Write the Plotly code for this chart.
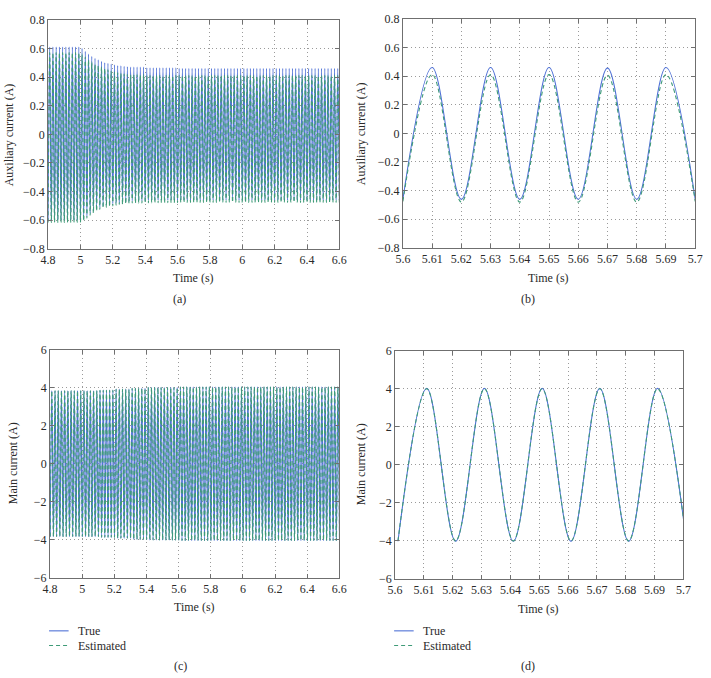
import plotly.graph_objects as go

# ---------------- data ----------------
PERIOD = 0.02  # s (50 Hz)

# (a) auxiliary current, 4.8-6.6 s : peak values per cycle
a_tmax0, a_tmin0 = 4.81, 4.80
a_true_max = [0.61]*10 + [0.60, 0.58, 0.56, 0.545, 0.53, 0.52, 0.51, 0.50, 0.495, 0.49,
                          0.485, 0.48, 0.478, 0.475, 0.472] + [0.47]*5 + [0.465]*10 + [0.46]*50
a_true_min = [-0.60]*11 + [-0.59, -0.57, -0.55, -0.535, -0.52, -0.51, -0.50, -0.495, -0.49,
                           -0.485, -0.48, -0.478, -0.475, -0.472, -0.47] + [-0.465]*5 + [-0.46]*10 + [-0.46]*50
a_est_max = [0.57]*10 + [0.56, 0.54, 0.52, 0.505, 0.49, 0.48, 0.47, 0.46, 0.45, 0.44,
                         0.435, 0.43, 0.425, 0.42, 0.418] + [0.415]*5 + [0.41]*10 + [0.41]*50
a_est_min = [-0.615]*11 + [-0.605, -0.585, -0.565, -0.55, -0.535, -0.525, -0.515, -0.51, -0.505,
                           -0.50, -0.495, -0.49, -0.488, -0.485, -0.482] + [-0.48]*5 + [-0.478]*10 + [-0.476]*50

# (b) auxiliary current zoom, 5.6-5.7 s
b_tmax0, b_tmin0 = 5.61, 5.60
b_true_max = [0.46, 0.46, 0.46, 0.455, 0.46]
b_true_min = [-0.46, -0.46, -0.46, -0.46, -0.46, -0.46]
b_est_max = [0.41, 0.41, 0.41, 0.405, 0.41]
b_est_min = [-0.475, -0.48, -0.48, -0.48, -0.48, -0.475]

# (c) main current, 4.8-6.6 s
c_tmax0, c_tmin0 = 4.811, 4.801
c_true_max = [3.85]*15 + [3.88]*5 + [3.93]*5 + [3.98]*5 + [4.02]*10 + [4.05]*50
c_true_min = [-3.83]*16 + [-3.87]*5 + [-3.92]*5 + [-3.98]*5 + [-4.01]*10 + [-4.04]*50
c_est_max = [3.84]*15 + [3.87]*5 + [3.92]*5 + [3.97]*5 + [4.01]*10 + [4.04]*50
c_est_min = [-3.82]*16 + [-3.86]*5 + [-3.91]*5 + [-3.97]*5 + [-4.0]*10 + [-4.03]*50

# (d) main current zoom, 5.6-5.7 s
d_tmax0, d_tmin0 = 5.611, 5.601
d_true_max = [4.02, 4.02, 4.02, 4.02, 4.02]
d_true_min = [-4.02, -4.02, -4.02, -4.02, -4.02, -4.02]
d_est_max = [4.0, 4.0, 4.0, 4.0, 4.0]
d_est_min = [-4.0, -4.0, -4.0, -4.0, -4.0, -4.0]

# axis ticks
x_ticks_long = [4.8, 5.0, 5.2, 5.4, 5.6, 5.8, 6.0, 6.2, 6.4, 6.6]
x_text_long = ["4.8", "5", "5.2", "5.4", "5.6", "5.8", "6", "6.2", "6.4", "6.6"]
x_ticks_short = [5.6, 5.61, 5.62, 5.63, 5.64, 5.65, 5.66, 5.67, 5.68, 5.69, 5.7]
x_text_short = ["5.6", "5.61", "5.62", "5.63", "5.64", "5.65", "5.66", "5.67", "5.68", "5.69", "5.7"]
y_ticks_aux = [-0.8, -0.6, -0.4, -0.2, 0, 0.2, 0.4, 0.6, 0.8]
y_text_aux = ["\u22120.8", "\u22120.6", "\u22120.4", "\u22120.2", "0", "0.2", "0.4", "0.6", "0.8"]
y_ticks_main = [-6, -4, -2, 0, 2, 4, 6]
y_text_main = ["\u22126", "\u22124", "\u22122", "0", "2", "4", "6"]

series_names = ["True", "Estimated"]

# ---------------- styling ----------------
W, H = 711, 678
BLUE = "#5072d6"
GREEN = "#3f9b78"
FONT = "Liberation Serif"
AXC = "#6f6f6f"
TXT = "#2a2a2a"


def wave(tmax0, vmax, tmin0, vmin):
    pts = [(tmax0 + i * PERIOD, v) for i, v in enumerate(vmax)]
    pts += [(tmin0 + i * PERIOD, v) for i, v in enumerate(vmin)]
    pts.sort()
    return [p[0] for p in pts], [p[1] for p in pts]


def px(x):
    return x / W


def py(y):
    return 1 - y / H


fig = go.Figure()

panels = [
    ("x", "y", (a_tmax0, a_true_max, a_tmin0, a_true_min), (a_tmax0, a_est_max, a_tmin0, a_est_min)),
    ("x2", "y2", (b_tmax0, b_true_max, b_tmin0, b_true_min), (b_tmax0, b_est_max, b_tmin0, b_est_min)),
    ("x3", "y3", (c_tmax0, c_true_max, c_tmin0, c_true_min), (c_tmax0, c_est_max, c_tmin0, c_est_min)),
    ("x4", "y4", (d_tmax0, d_true_max, d_tmin0, d_true_min), (d_tmax0, d_est_max, d_tmin0, d_est_min)),
]
for xa, ya, tr, es in panels:
    xs, ys = wave(*tr)
    fig.add_trace(go.Scatter(x=xs, y=ys, xaxis=xa, yaxis=ya, mode="lines", name=series_names[0],
                             line=dict(color=BLUE, width=1.1, shape="spline", smoothing=1.0),
                             showlegend=False))
    xs, ys = wave(*es)
    fig.add_trace(go.Scatter(x=xs, y=ys, xaxis=xa, yaxis=ya, mode="lines", name=series_names[1],
                             line=dict(color=GREEN, width=1.1, dash="4px,3px", shape="spline", smoothing=1.0),
                             showlegend=False))

# domains in pixels: (left, right, top, bottom)
boxes = {
    "": (41, 339, 13, 247),
    "2": (404, 703, 12, 246),
    "3": (43, 339, 350, 583),
    "4": (396, 691, 351, 584),
}
axis_common = dict(showline=True, linecolor=AXC, linewidth=1, mirror="ticks", ticks="inside",
                   ticklen=4, tickcolor=AXC, showgrid=True, gridcolor="#9a9a9a", griddash="1px,3px",
                   gridwidth=1, zeroline=False, tickfont=dict(family=FONT, size=12, color=TXT))

xcfg = {"": (x_ticks_long, x_text_long, [4.8, 6.6]), "2": (x_ticks_short, x_text_short, [5.6, 5.7]),
        "3": (x_ticks_long, x_text_long, [4.8, 6.6]), "4": (x_ticks_short, x_text_short, [5.6, 5.7])}
ycfg = {"": (y_ticks_aux, y_text_aux, [-0.8, 0.8]), "2": (y_ticks_aux, y_text_aux, [-0.8, 0.8]),
        "3": (y_ticks_main, y_text_main, [-6, 6]), "4": (y_ticks_main, y_text_main, [-6, 6])}

layout_axes = {}
for k, (l, r, t, b) in boxes.items():
    xt, xtt, xr = xcfg[k]
    yt, ytt, yr = ycfg[k]
    layout_axes["xaxis" + k] = dict(axis_common, domain=[px(l), px(r)], range=xr, tickvals=xt,
                                    ticktext=xtt, anchor="y" + k)
    layout_axes["yaxis" + k] = dict(axis_common, domain=[py(b), py(t)], range=yr, tickvals=yt,
                                    ticktext=ytt, anchor="x" + k)

fig.update_layout(width=W, height=H, margin=dict(l=0, r=0, t=0, b=0), plot_bgcolor="white",
                  paper_bgcolor="white", showlegend=False, **layout_axes)

ann = []
tf = dict(family=FONT, size=12, color=TXT)


def text(x, y, s, angle=0, xanchor="center"):
    ann.append(dict(x=px(x), y=py(y), xref="paper", yref="paper", text=s, showarrow=False,
                    textangle=angle, font=tf, xanchor=xanchor, yanchor="middle"))


# axis titles
text(190, 277, "Time (s)")
text(553, 277, "Time (s)")
text(191, 613, "Time (s)")
text(543, 615, "Time (s)")
text(1, 130, "Auxiliary current (A)", angle=-90)
text(361, 129, "Auxiliary current (A)", angle=-90)
text(6, 466, "Main current (A)", angle=-90)
text(361, 467, "Main current (A)", angle=-90)
# panel labels
text(175, 298, "(a)")
text(532, 298, "(b)")
text(176, 673, "(c)")
text(532, 673, "(d)")

# legends
shapes = []
for lx in (42, 395):
    for (yy, col, dash, name) in ((637, BLUE, "solid", series_names[0]), (652, GREEN, "dash", series_names[1])):
        shapes.append(dict(type="line", xref="paper", yref="paper", x0=px(lx), x1=px(lx + 20),
                           y0=py(yy), y1=py(yy), line=dict(color=col, width=1.1,
                                                           dash="4px,3px" if dash == "dash" else "solid")))
        text(lx + 28, yy, name, xanchor="left")

fig.update_layout(annotations=ann, shapes=shapes)
fig.write_html("out.html")
